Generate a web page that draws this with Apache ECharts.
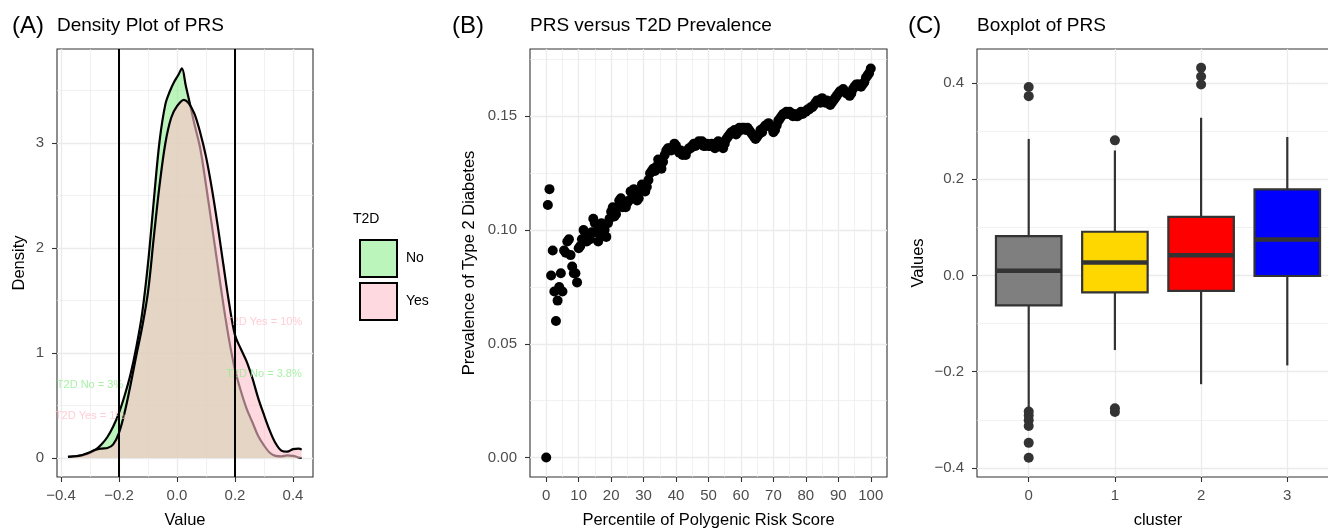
<!DOCTYPE html>
<html>
<head>
<meta charset="utf-8">
<script src="https://cdn.jsdelivr.net/npm/echarts@6.0.0/dist/echarts.min.js"></script>
<style>html,body{margin:0;padding:0;background:#fff}#chart{width:1328px;height:528px}</style>
</head>
<body>
<div id="chart"></div>
<script>
// ---------- Panel A: density of PRS ----------
const densNoX  = [-0.376,-0.36,-0.34,-0.32,-0.30,-0.28,-0.26,-0.24,-0.22,-0.20,-0.18,-0.16,-0.14,-0.12,-0.10,-0.08,-0.06,-0.04,-0.025,-0.01,0.005,0.017,0.03,0.044,0.06,0.08,0.10,0.12,0.14,0.16,0.18,0.20,0.22,0.24,0.26,0.28,0.30,0.32,0.34,0.36,0.38,0.40,0.42,0.43];
const densNoY  = [0.01,0.012,0.02,0.03,0.05,0.08,0.13,0.20,0.30,0.43,0.60,0.80,1.06,1.38,1.85,2.45,3.02,3.37,3.49,3.58,3.65,3.71,3.55,3.38,3.18,2.95,2.60,2.22,1.84,1.46,1.12,0.84,0.64,0.47,0.34,0.21,0.12,0.05,0.02,0.015,0.025,0.02,0.005,0.0];
const densYesX = [-0.376,-0.36,-0.34,-0.32,-0.30,-0.28,-0.26,-0.24,-0.22,-0.20,-0.18,-0.16,-0.14,-0.12,-0.10,-0.08,-0.06,-0.04,-0.02,0.0,0.024,0.04,0.06,0.08,0.10,0.12,0.14,0.16,0.18,0.20,0.22,0.24,0.26,0.28,0.30,0.32,0.34,0.36,0.38,0.40,0.42,0.43];
const densYesY = [0.01,0.015,0.02,0.035,0.055,0.08,0.09,0.095,0.13,0.24,0.44,0.70,0.98,1.25,1.58,2.10,2.60,3.00,3.24,3.35,3.41,3.38,3.28,3.10,2.87,2.57,2.22,1.84,1.47,1.17,1.04,0.92,0.76,0.57,0.41,0.26,0.14,0.07,0.06,0.085,0.09,0.08];
const cutoffs = [-0.2, 0.2];
const annotText  = ['T2D No = 3%', 'T2D Yes = 1%', 'T2D Yes = 10%', 'T2D No = 3.8%'];
const annotX     = [-0.3, -0.3, 0.3, 0.3];
const annotY     = [0.70, 0.40, 1.30, 0.80];
const annotGroup = ['No', 'Yes', 'Yes', 'No'];
const groupNames = ['No', 'Yes'];
const aXTicks = [-0.4, -0.2, 0, 0.2, 0.4];
const aXMinor = [-0.3, -0.1, 0.1, 0.3];
const aYTicks = [0, 1, 2, 3];
const aYMinor = [0.5, 1.5, 2.5, 3.5];

// ---------- Panel B: PRS percentile vs prevalence ----------
const pctl = [0,0.5,1,1.5,2,2.5,3,3.5,4,4.5,5,5.5,6,6.5,7,7.5,8,8.5,9,9.5,
  10,10.5,11,11.5,12,12.5,13,13.5,14,14.5,15,15.5,16,16.5,17,17.5,18,18.5,19,19.5,
  20,20.5,21,21.5,22,22.5,23,23.5,24,24.5,25,25.5,26,26.5,27,27.5,28,28.5,29,29.5,
  30,30.5,31,31.5,32,32.5,33,33.5,34,34.5,35,35.5,36,36.5,37,37.5,38,38.5,39,39.5,
  40,40.5,41,41.5,42,42.5,43,43.5,44,44.5,45,45.5,46,46.5,47,47.5,48,48.5,49,49.5,
  50,50.5,51,51.5,52,52.5,53,53.5,54,54.5,55,55.5,56,56.5,57,57.5,58,58.5,59,59.5,
  60,60.5,61,61.5,62,62.5,63,63.5,64,64.5,65,65.5,66,66.5,67,67.5,68,68.5,69,69.5,
  70,70.5,71,71.5,72,72.5,73,73.5,74,74.5,75,75.5,76,76.5,77,77.5,78,78.5,79,79.5,
  80,80.5,81,81.5,82,82.5,83,83.5,84,84.5,85,85.5,86,86.5,87,87.5,88,88.5,89,89.5,
  90,90.5,91,91.5,92,92.5,93,93.5,94,94.5,95,95.5,96,96.5,97,97.5,98,98.5,99,99.5,100];
const prevalence = [
  0.000,0.111,0.118,0.080,0.091,0.073,0.060,0.069,0.075,0.081,
  0.073,0.091,0.090,0.095,0.096,0.089,0.084,0.081,0.081,0.077,
  0.092,0.093,0.096,0.100,0.097,0.095,0.097,0.096,0.099,0.105,
  0.103,0.099,0.095,0.101,0.103,0.098,0.100,0.097,0.103,0.105,
  0.108,0.110,0.106,0.107,0.110,0.113,0.114,0.110,0.112,0.110,
  0.112,0.113,0.117,0.116,0.118,0.115,0.113,0.114,0.117,0.120,
  0.118,0.117,0.119,0.122,0.125,0.126,0.127,0.126,0.128,0.131,
  0.129,0.127,0.130,0.133,0.135,0.136,0.136,0.135,0.136,0.138,
  0.137,0.135,0.134,0.135,0.133,0.134,0.133,0.135,0.136,0.136,
  0.137,0.138,0.137,0.138,0.139,0.138,0.139,0.137,0.137,0.138,
  0.137,0.137,0.138,0.137,0.136,0.137,0.139,0.137,0.138,0.136,
  0.138,0.140,0.141,0.142,0.143,0.143,0.144,0.142,0.143,0.145,
  0.144,0.145,0.145,0.144,0.145,0.144,0.143,0.142,0.141,0.140,
  0.141,0.142,0.144,0.143,0.145,0.146,0.146,0.147,0.146,0.145,
  0.143,0.144,0.146,0.148,0.149,0.150,0.151,0.151,0.152,0.151,
  0.152,0.151,0.150,0.151,0.150,0.150,0.151,0.152,0.151,0.152,
  0.152,0.153,0.153,0.154,0.154,0.155,0.156,0.157,0.157,0.156,
  0.158,0.157,0.156,0.157,0.156,0.155,0.156,0.157,0.158,0.159,
  0.160,0.161,0.161,0.162,0.161,0.160,0.160,0.159,0.160,0.162,
  0.163,0.164,0.164,0.164,0.163,0.164,0.165,0.167,0.168,0.169,
  0.171];
const bXTicks = [0,10,20,30,40,50,60,70,80,90,100];
const bXMinor = [5,15,25,35,45,55,65,75,85,95];
const bYTicks = [0, 0.05, 0.10, 0.15];
const bYMinor = [0.025, 0.075, 0.125, 0.175];

// ---------- Panel C: boxplot by cluster ----------
const clusters    = [0, 1, 2, 3];
const whiskerLow  = [-0.277, -0.155, -0.226, -0.187];
const q1          = [-0.062, -0.035, -0.032, -0.001];
const median      = [0.010, 0.027, 0.042, 0.075];
const q3          = [0.082, 0.091, 0.122, 0.179];
const whiskerHigh = [0.284, 0.260, 0.328, 0.288];
const outlierCluster = [0, 0, 0, 0, 0, 0, 0, 0, 1, 1, 1, 2, 2, 2];
const outlierValue   = [0.392, 0.373, -0.283, -0.291, -0.301, -0.313, -0.348, -0.379, 0.281, -0.276, -0.284, 0.432, 0.414, 0.397];
const cXTicks = [0, 1, 2, 3];
const cYTicks = [-0.4, -0.2, 0, 0.2, 0.4];
const cYMinor = [-0.3, -0.1, 0.1, 0.3];

// ---------- styling ----------
const FONT = "'Liberation Sans', Arial, Helvetica, sans-serif";
const GRIDLINE = '#EBEBEB';
const fillColors = { No: 'rgba(144,238,144,0.6)', Yes: 'rgba(255,192,203,0.6)' };
const textColors = { No: '#90EE90', Yes: '#FFC0CB' };
const boxColors = ['#7F7F7F', '#FFD700', '#FF0000', '#0000FF'];
const BOX_WIDTH = 0.76;
const minusFmt = d => v => (v < 0 ? '\u2212' : '') + Math.abs(v).toFixed(d);

function majorAxis(dim, grid, min, max, ticks, fmt, name, nameGap) {
  return {
    type: 'value', gridIndex: grid, min: min, max: max,
    position: dim === 'x' ? 'bottom' : 'left',
    name: name, nameLocation: 'middle', nameGap: nameGap,
    nameTextStyle: { fontFamily: FONT, fontSize: 16.5, color: '#000' },
    axisLine: { show: false, onZero: false },
    axisTick: { show: true, customValues: ticks, length: 5, lineStyle: { color: '#333333', width: 1.1 } },
    axisLabel: { show: true, customValues: ticks, formatter: fmt, margin: dim === 'x' ? 11 : 13,
                 fontFamily: FONT, fontSize: 15, color: '#4D4D4D' },
    splitLine: { show: true, lineStyle: { color: GRIDLINE, width: 1.3 } },
    minorTick: { show: false }, minorSplitLine: { show: false }
  };
}
function minorAxis(dim, grid, min, max, ticks) {
  return {
    type: 'value', gridIndex: grid, min: min, max: max,
    position: dim === 'x' ? 'bottom' : 'left',
    axisLine: { show: false, onZero: false },
    axisTick: { show: false, customValues: ticks },
    axisLabel: { show: false, customValues: ticks },
    splitLine: { show: true, lineStyle: { color: GRIDLINE, width: 0.7 } }
  };
}
const gridBase = { show: true, borderColor: '#333333', borderWidth: 1.1, backgroundColor: 'transparent', containLabel: false, outerBoundsMode: 'none' };

const chart = echarts.init(document.getElementById('chart'), null, { renderer: 'canvas' });

const option = {
  animation: false,
  backgroundColor: '#ffffff',
  textStyle: { fontFamily: FONT },
  grid: [
    Object.assign({ left: 57, top: 49, width: 256, height: 428 }, gridBase),
    Object.assign({ left: 530, top: 49, width: 357, height: 428 }, gridBase),
    Object.assign({ left: 977, top: 49, width: 362, height: 428 }, gridBase)
  ],
  xAxis: [
    majorAxis('x', 0, -0.4138, 0.469, aXTicks, minusFmt(1), 'Value', 35),
    minorAxis('x', 0, -0.4138, 0.469, aXMinor),
    majorAxis('x', 1, -5, 105, bXTicks, v => String(Math.round(v)), 'Percentile of Polygenic Risk Score', 35),
    minorAxis('x', 1, -5, 105, bXMinor),
    majorAxis('x', 2, -0.6, 3.6, cXTicks, v => String(Math.round(v)), 'cluster', 35)
  ],
  yAxis: [
    majorAxis('y', 0, -0.181, 3.895, aYTicks, v => String(Math.round(v)), 'Density', 29),
    minorAxis('y', 0, -0.181, 3.895, aYMinor),
    majorAxis('y', 1, -0.00855, 0.1796, bYTicks, v => v.toFixed(2), 'Prevalence of Type 2 Diabetes', 52),
    minorAxis('y', 1, -0.00855, 0.1796, bYMinor),
    majorAxis('y', 2, -0.419, 0.471, cYTicks, minusFmt(1), 'Values', 50),
    minorAxis('y', 2, -0.419, 0.471, cYMinor)
  ],
  legend: {
    left: 354, top: 234, orient: 'vertical',
    itemWidth: 37, itemHeight: 37, itemGap: 4, icon: 'rect',
    selectedMode: false,
    itemStyle: { borderColor: '#000', borderWidth: 2 },
    textStyle: { fontFamily: FONT, fontSize: 14, color: '#000', padding: [0, 0, 0, 4] },
    data: groupNames.map(g => ({ name: g, icon: 'rect', itemStyle: { color: fillColors[g], borderColor: '#000', borderWidth: 2 } }))
  },
  graphic: [
    { type: 'text', x: 12, y: 26, style: { text: '(A)', fontSize: 24, fontFamily: FONT, fill: '#000', verticalAlign: 'middle' } },
    { type: 'text', x: 57, y: 25.5, style: { text: 'Density Plot of PRS', fontSize: 19, fontFamily: FONT, fill: '#000', verticalAlign: 'middle' } },
    { type: 'text', x: 452, y: 26, style: { text: '(B)', fontSize: 24, fontFamily: FONT, fill: '#000', verticalAlign: 'middle' } },
    { type: 'text', x: 530, y: 25.5, style: { text: 'PRS versus T2D Prevalence', fontSize: 19, fontFamily: FONT, fill: '#000', verticalAlign: 'middle' } },
    { type: 'text', x: 908, y: 26, style: { text: '(C)', fontSize: 24, fontFamily: FONT, fill: '#000', verticalAlign: 'middle' } },
    { type: 'text', x: 977, y: 25.5, style: { text: 'Boxplot of PRS', fontSize: 19, fontFamily: FONT, fill: '#000', verticalAlign: 'middle' } },
    { type: 'text', x: 353, y: 219, style: { text: 'T2D', fontSize: 14, fontFamily: FONT, fill: '#000', verticalAlign: 'middle' } }
  ],
  series: [
    {
      type: 'line', name: 'No', xAxisIndex: 0, yAxisIndex: 0, z: 2,
      data: densNoX.map((x, i) => [x, densNoY[i]]),
      smooth: 0.35, showSymbol: false, symbol: 'none',
      itemStyle: { color: fillColors.No },
      lineStyle: { color: '#000', width: 2.2 },
      areaStyle: { color: fillColors.No, opacity: 1 }
    },
    {
      type: 'line', name: 'Yes', xAxisIndex: 0, yAxisIndex: 0, z: 3,
      data: densYesX.map((x, i) => [x, densYesY[i]]),
      smooth: 0.35, showSymbol: false, symbol: 'none',
      itemStyle: { color: fillColors.Yes },
      lineStyle: { color: '#000', width: 2.2 },
      areaStyle: { color: fillColors.Yes, opacity: 1 },
      markLine: {
        silent: true, symbol: 'none', label: { show: false },
        lineStyle: { color: '#000', width: 2, type: 'solid' },
        data: cutoffs.map(v => ({ xAxis: v }))
      }
    },
    // Panel A annotations (drawn above the filled densities)
    {
      type: 'scatter', name: 'annot', xAxisIndex: 0, yAxisIndex: 0, z: 4,
      symbolSize: 1, itemStyle: { color: 'rgba(0,0,0,0)' }, silent: true,
      data: annotText.map((t, i) => ({
        name: t, value: [annotX[i], annotY[i]],
        label: { show: true, position: 'inside', formatter: '{b}', fontFamily: FONT, fontSize: 11, color: textColors[annotGroup[i]] }
      }))
    },
    // Panel B
    {
      type: 'scatter', name: 'prev', xAxisIndex: 2, yAxisIndex: 2,
      symbolSize: 10, itemStyle: { color: '#000', opacity: 1 },
      data: pctl.map((p, i) => [p, prevalence[i]])
    },
    // Panel C boxes
    {
      type: 'custom', name: 'box', xAxisIndex: 4, yAxisIndex: 4,
      encode: { x: 0, y: [1, 2, 3, 4, 5] },
      data: clusters.map((c, i) => [c, whiskerLow[i], q1[i], median[i], q3[i], whiskerHigh[i]]),
      renderItem: function (params, api) {
        const x = api.value(0);
        const lo = api.coord([x, api.value(1)]);
        const b1 = api.coord([x, api.value(2)]);
        const md = api.coord([x, api.value(3)]);
        const b3 = api.coord([x, api.value(4)]);
        const hi = api.coord([x, api.value(5)]);
        const hw = api.size([BOX_WIDTH, 0])[0] / 2;
        const stroke = { stroke: '#333333', lineWidth: 2.2 };
        return {
          type: 'group',
          children: [
            { type: 'line', shape: { x1: lo[0], y1: lo[1], x2: b1[0], y2: b1[1] }, style: stroke },
            { type: 'line', shape: { x1: b3[0], y1: b3[1], x2: hi[0], y2: hi[1] }, style: stroke },
            { type: 'rect', shape: { x: b1[0] - hw, y: b3[1], width: 2 * hw, height: b1[1] - b3[1] },
              style: { fill: boxColors[params.dataIndex], stroke: '#333333', lineWidth: 2.2 } },
            { type: 'line', shape: { x1: md[0] - hw, y1: md[1], x2: md[0] + hw, y2: md[1] },
              style: { stroke: '#333333', lineWidth: 4.4 } }
          ]
        };
      }
    },
    {
      type: 'scatter', name: 'outliers', xAxisIndex: 4, yAxisIndex: 4,
      symbolSize: 10, itemStyle: { color: '#333333', opacity: 1 },
      data: outlierCluster.map((c, i) => [c, outlierValue[i]])
    }
  ]
};
chart.setOption(option);
</script>
</body>
</html>
